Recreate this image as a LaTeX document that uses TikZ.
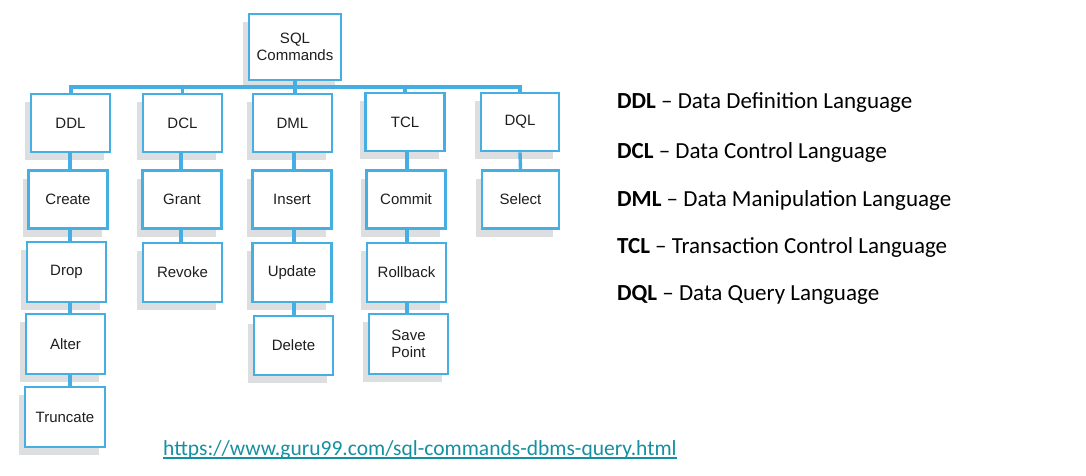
\documentclass[tikz,border=0pt]{standalone}
\usepackage{fontspec}
\setmainfont{Liberation Sans}
\newfontfamily\calib{Carlito}
\usetikzlibrary{shadows}
\definecolor{boxblue}{HTML}{45AEE3}
\definecolor{shadowgray}{HTML}{DDDEE0}
\definecolor{linkteal}{HTML}{1590A0}
\definecolor{txtgray}{HTML}{1E1E1E}
\tikzset{
  box/.style={draw=boxblue, line width=2.8pt, fill=white, minimum width=79pt, minimum height=58pt,
    inner sep=0pt, align=center, text=txtgray, font=\fontsize{15}{17}\selectfont,
    drop shadow={shadow xshift=-6pt, shadow yshift=-8pt, opacity=1, fill=shadowgray}},
  conn/.style={draw=boxblue, line width=3.4pt},
  legend/.style={anchor=west, inner sep=0pt, font=\calib\fontsize{23}{26}\selectfont, text=black},
}
\begin{document}
\begin{tikzpicture}[x=1pt,y=-1pt]
\useasboundingbox[fill=white] (0,0) rectangle (1086,476);
\coordinate (bus) at (295,87);
% boxes
\node[box, minimum width=92pt, minimum height=66pt] (sql) at (295,47) {SQL\\Commands};
\node[box] (ddl) at (70.5,123) {DDL};
\node[box] (dcl) at (182.5,123) {DCL};
\node[box] (dml) at (292.5,123) {DML};
\node[box] (tcl) at (405,122) {TCL};
\node[box, minimum width=78pt] (dql) at (520,122) {DQL};
\node[box] (create) at (68,199.5) {Create};
\node[box] (grant) at (182,199.5) {Grant};
\node[box] (insert) at (292,199.5) {Insert};
\node[box] (commit) at (406,199.5) {Commit};
\node[box, minimum width=77pt] (select) at (520.5,199.5) {Select};
\node[box, minimum height=60pt] (drop) at (66.5,272) {Drop};
\node[box, minimum height=59pt] (revoke) at (182.5,272.5) {Revoke};
\node[box, minimum height=59pt] (update) at (292,272.5) {Update};
\node[box, minimum height=59pt] (rollback) at (406.5,272.5) {Rollback};
\node[box, minimum height=60pt] (alter) at (65.5,344) {Alter};
\node[box, minimum height=59pt] (delete) at (293.5,345.5) {Delete};
\node[box, minimum height=60pt] (savepoint) at (408.5,344) {Save\\Point};
\node[box, minimum width=80pt, minimum height=60pt] (truncate) at (65,417) {Truncate};
% connectors
\draw[conn] (sql.south) -- (bus);
\draw[conn] (ddl.north -| 71,0) |- (bus) -| (dql.north);
\draw[conn] (dcl.north) -- (dcl.north |- bus);
\draw[conn] (dml.north -| bus) -- (bus);
\draw[conn] (tcl.north) -- (tcl.north |- bus);
\draw[conn] (ddl.south -| 70,0) -- (create.north -| 70,0);
\draw[conn] (create.south -| 70,0) -- (drop.north -| 70,0);
\draw[conn] (drop.south -| 70,0) -- (alter.north -| 70,0);
\draw[conn] (alter.south -| 70,0) -- (truncate.north -| 70,0);
\draw[conn] (dcl.south -| 181,0) -- (grant.north -| 181,0);
\draw[conn] (grant.south -| 181,0) -- (revoke.north -| 181,0);
\draw[conn] (dml.south -| 294,0) -- (insert.north -| 294,0);
\draw[conn] (insert.south -| 294,0) -- (update.north -| 294,0);
\draw[conn] (update.south -| 294,0) -- (delete.north -| 294,0);
\draw[conn] (tcl.south -| 407,0) -- (commit.north -| 407,0);
\draw[conn] (commit.south -| 407,0) -- (rollback.north -| 407,0);
\draw[conn] (rollback.south -| 407,0) -- (savepoint.north -| 407,0);
\draw[conn] (dql.south) -- (select.north);
% legend
\node[legend] (l1) at (617,103) {\textbf{DDL} – Data Definition Language};
\node[legend] (l2) at (617,152) {\textbf{DCL} – Data Control Language};
\node[legend] (l3) at (617,200) {\textbf{DML} – Data Manipulation Language};
\node[legend] (l4) at (617,247) {\textbf{TCL} – Transaction Control Language};
\node[legend] (l5) at (617,295) {\textbf{DQL} – Data Query Language};
% url
\node[anchor=base west, inner sep=0pt, font=\calib\fontsize{21.5}{24}\selectfont, text=linkteal] (url) at (163,455)
  {https://www.guru99.com/sql-commands-dbms-query.html};
\draw[linkteal, line width=1.3pt] ([yshift=-3pt]url.base west) -- ([yshift=-3pt]url.base east);
\end{tikzpicture}
\end{document}
